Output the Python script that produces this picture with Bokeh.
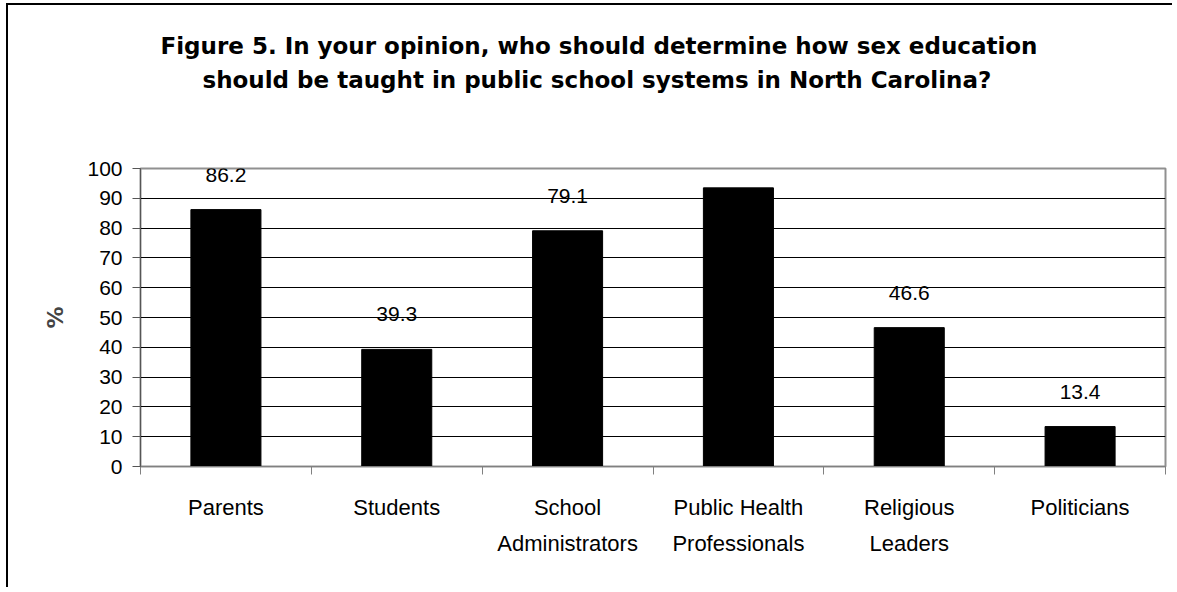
import numpy as np
from bokeh.plotting import figure
from bokeh.models import Range1d, FixedTicker, ColumnDataSource, Title
from bokeh.core.properties import value
from bokeh.embed import file_html
from bokeh.resources import INLINE

categories = ["Parents", "Students", "School\nAdministrators", "Public Health\nProfessionals",
              "Religious\nLeaders", "Politicians"]
values = [86.2, 39.3, 79.1, 93.5, 46.6, 13.4]
y_ticks = [0, 10, 20, 30, 40, 50, 60, 70, 80, 90, 100]
title_line1 = "Figure 5. In your opinion, who should determine how sex education"
title_line2 = "should be taught in public school systems in North Carolina?"

n = len(categories)
centers = list(np.arange(n) + 0.5)
bounds = list(np.arange(n + 1).astype(float))

W, H = 1166, 584
p = figure(width=W, height=H, output_backend="svg", toolbar_location=None,
           x_range=Range1d(0, n), y_range=Range1d(0, 100),
           min_border_left=132, min_border_right=W - 1157, min_border_top=163,
           min_border_bottom=H - 461)

spacer = Title(text=" ", standoff=72, text_font_size="2px")
t2 = Title(text=title_line2, align="left", offset=62, standoff=0,
           text_font="DejaVu Sans", text_font_style="bold", text_font_size="23px",
           text_color="black")
t1 = Title(text=title_line1, align="left", offset=20, standoff=12,
           text_font="DejaVu Sans", text_font_style="bold", text_font_size="23px",
           text_color="black")
p.add_layout(spacer, "above")
p.add_layout(t2, "above")
p.add_layout(t1, "above")

src = ColumnDataSource(dict(x=centers, top=values, label=[f"{v:.1f}" for v in values]))
p.vbar(x="x", top="top", width=0.41, source=src, fill_color="black", line_color="black")
p.text(x="x", y="top", text="label", source=src, text_align="center", text_baseline="bottom",
       y_offset=-28, text_font=value("Liberation Sans"), text_font_size="21px", text_color="black")

# axes
p.yaxis.ticker = FixedTicker(ticks=y_ticks)
p.yaxis.major_tick_in = 0
p.yaxis.major_tick_out = 8
p.yaxis.minor_tick_line_color = None
p.yaxis.axis_line_color = "#555555"
p.yaxis.major_tick_line_color = "#555555"
p.yaxis.major_label_standoff = 10
p.yaxis.major_label_text_font = "Liberation Sans"
p.yaxis.major_label_text_font_size = "21px"
p.yaxis.major_label_text_color = "black"
p.yaxis.axis_label = "%"
p.yaxis.axis_label_text_font = "DejaVu Sans"
p.yaxis.axis_label_text_font_style = "bold"
p.yaxis.axis_label_text_font_size = "22px"
p.yaxis.axis_label_standoff = 16

p.xaxis.ticker = FixedTicker(ticks=centers, minor_ticks=bounds)
p.xaxis.major_label_overrides = {c: lab for c, lab in zip(centers, categories)}
p.xaxis.major_tick_line_color = None
p.xaxis.minor_tick_in = 0
p.xaxis.minor_tick_out = 8
p.xaxis.minor_tick_line_color = "#808080"
p.xaxis.axis_line_color = "#808080"
p.xaxis.major_label_standoff = 20
p.xaxis.major_label_text_font = "Liberation Sans"
p.xaxis.major_label_text_font_size = "22px"
p.xaxis.major_label_text_line_height = 1.44
p.xaxis.major_label_text_color = "black"

p.xgrid.visible = False
p.ygrid.ticker = FixedTicker(ticks=y_ticks[1:-1])
p.ygrid.grid_line_color = "black"
p.ygrid.grid_line_width = 1

p.outline_line_color = "#909090"
p.outline_line_width = 2
p.background_fill_color = "white"
p.border_fill_color = "white"
p.styles = {"border-left": "2px solid black", "border-top": "2px solid black",
            "margin-left": "6px", "margin-top": "3px"}

open("out.html", "w").write(file_html(p, INLINE))
